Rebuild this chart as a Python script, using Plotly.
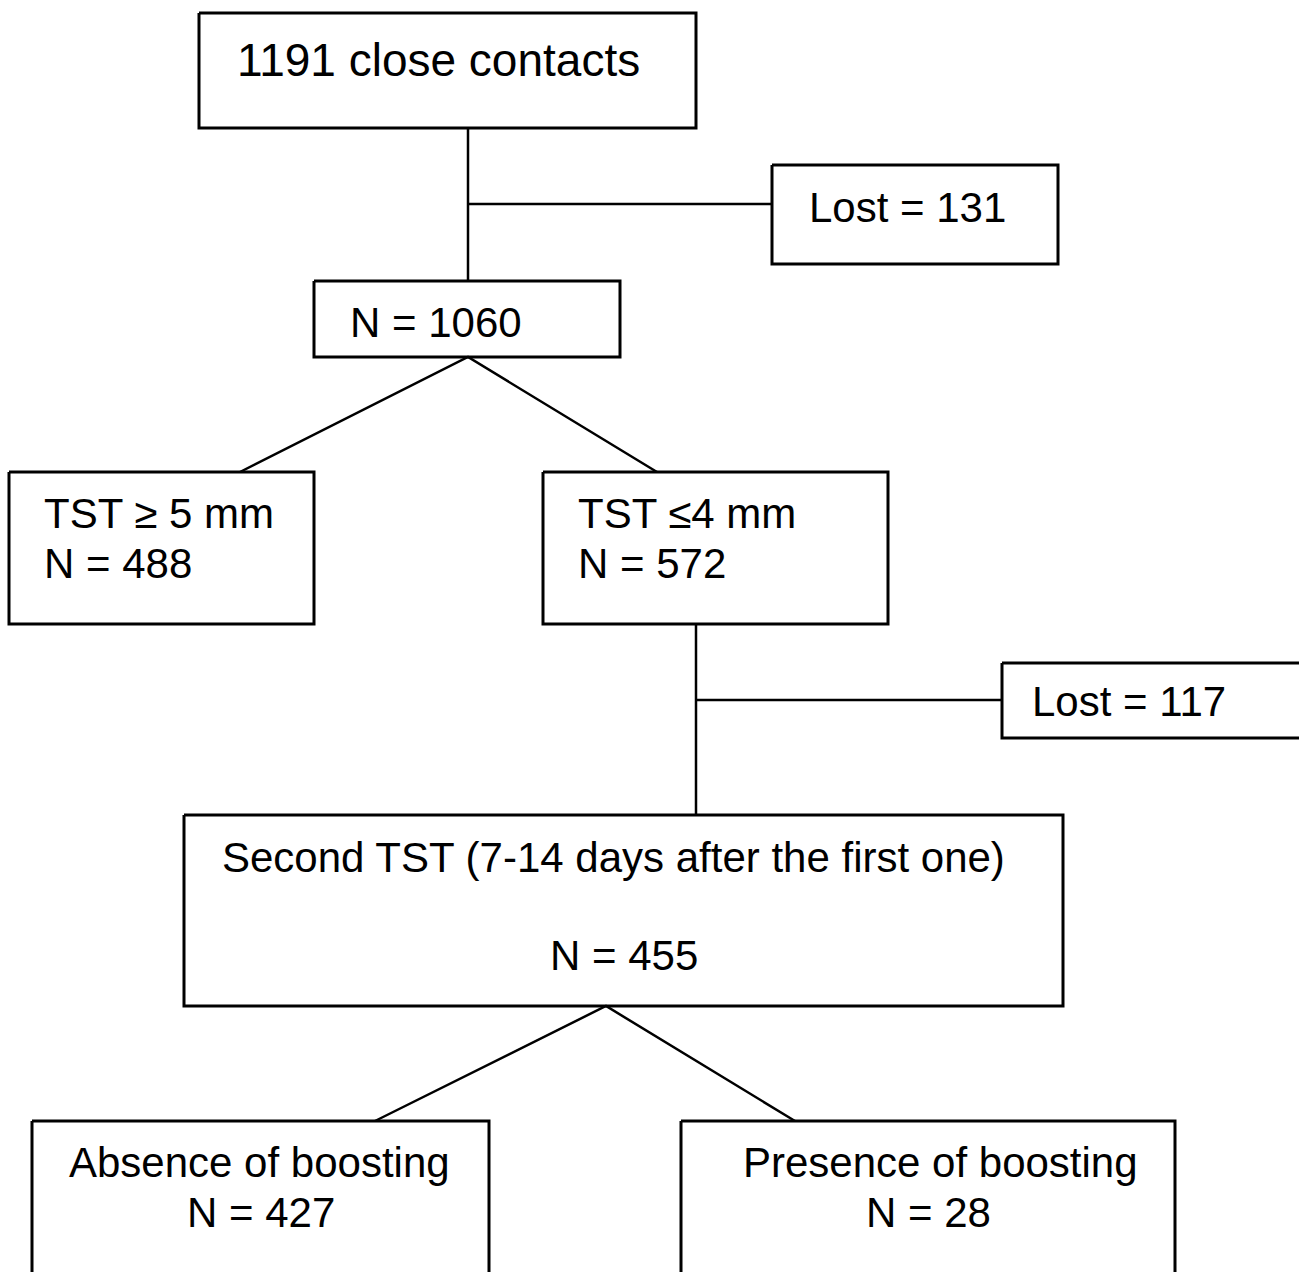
import plotly.graph_objects as go

# ---- data (flowchart content) ----
stages = ["1191 close contacts", "Lost = 131", "N = 1060",
          "TST ≥ 5 mm", "TST ≤4 mm", "Lost = 117",
          "Second TST (7-14 days after the first one)",
          "Absence of boosting", "Presence of boosting"]
counts = [None, None, None, "N = 488", "N = 572", None, "N = 455", "N = 427", "N = 28"]

# ---- layout of the diagram (pixel coordinates, y downwards) ----
W, H = 1299, 1272
boxes = [  # x0, y0, x1, y1
    (199, 13, 696, 128),
    (772, 165, 1058, 264),
    (314, 281, 620, 357),
    (9, 472, 314, 624),
    (543, 472, 888, 624),
    (1002, 663, 1302, 738),
    (184, 815, 1063, 1006),
    (32, 1121, 489, 1274),
    (681, 1121, 1175, 1274),
]
# text placement: (x, y of first line, anchor, y of second line, x of second line, font size)
text_pos = [
    (235, 60, "left", None, None, 46),
    (807, 207, "left", None, None, 42),
    (348, 322, "left", None, None, 42),
    (42, 513, "left", 563, 42, 42),
    (576, 513, "left", 563, 576, 42),
    (1030, 701, "left", None, None, 42),
    (613, 857, "center", 955, 624, 42),
    (259, 1162, "center", 1212, 261, 42),
    (940, 1162, "center", 1212, 928, 42),
]
connectors = [  # polylines
    [(468, 128), (468, 281)],
    [(468, 204), (772, 204)],
    [(240, 472), (468, 357), (657, 472)],
    [(696, 624), (696, 815)],
    [(696, 700), (1002, 700)],
    [(375, 1121), (606, 1006), (795, 1121)],
]

fig = go.Figure()
for (x0, y0, x1, y1) in boxes:
    fig.add_trace(go.Scatter(x=[x0, x1, x1, x0, x0], y=[y0, y0, y1, y1, y0],
                             mode="lines", line=dict(color="black", width=3),
                             hoverinfo="skip", showlegend=False))
for pts in connectors:
    fig.add_trace(go.Scatter(x=[p[0] for p in pts], y=[p[1] for p in pts],
                             mode="lines", line=dict(color="black", width=2.5),
                             hoverinfo="skip", showlegend=False))

font = "Liberation Sans, Arial, Helvetica, sans-serif"
for label, cnt, (x, y, anchor, y2, x2, fs) in zip(stages, counts, text_pos):
    fig.add_annotation(x=x, y=y, text=label, showarrow=False, xanchor=anchor,
                       yanchor="middle", font=dict(family=font, size=fs, color="black"))
    if cnt is not None:
        fig.add_annotation(x=x2, y=y2, text=cnt, showarrow=False, xanchor=anchor,
                           yanchor="middle", font=dict(family=font, size=fs, color="black"))

fig.update_xaxes(range=[0, W], visible=False, fixedrange=True)
fig.update_yaxes(range=[H, 0], visible=False, fixedrange=True)
fig.update_layout(width=W, height=H, margin=dict(l=0, r=0, t=0, b=0),
                  paper_bgcolor="white", plot_bgcolor="white")
fig.write_html("out.html", config={"displayModeBar": False},
               post_script="document.body.style.margin='0';document.body.style.overflow='hidden';")
